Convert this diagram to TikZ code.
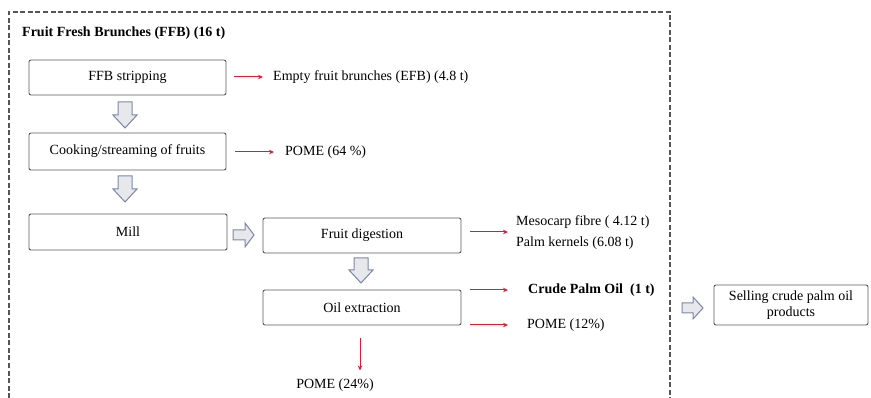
\documentclass[tikz,border=0pt]{standalone}
\usepackage{fontspec}
\setmainfont{Liberation Serif}
\usetikzlibrary{arrows.meta,calc}
\definecolor{redarr}{RGB}{214,30,55}
\definecolor{boxline}{RGB}{90,90,90}
\definecolor{frameline}{RGB}{85,85,85}
\definecolor{bafill}{RGB}{230,232,236}
\definecolor{baline}{RGB}{125,135,168}
\tikzset{
  procbox/.style={draw=boxline, line width=0.9pt, rounded corners=2pt, fill=white,
    minimum height=35pt, align=center, inner sep=2pt, font=\fontsize{14}{16}\selectfont},
  lbl/.style={inner sep=0pt, anchor=west, font=\fontsize{14}{16}\selectfont},
  redflow/.style={draw=redarr, line width=1pt, -{Stealth[length=5pt,width=4.5pt]}},
  barrow/.style={draw=baline, fill=bafill, line width=1pt, line join=miter},
  frame/.style={draw=frameline, line width=1.3pt, dash pattern=on 5pt off 2.5pt}
}
\begin{document}
\begin{tikzpicture}[x=1pt,y=-1pt]
\useasboundingbox (0,0) rectangle (871,398);
% frame
\draw[frame] (9,398) -- (9,12) -- (670,12) -- (670,398);
\node[inner sep=0pt, anchor=west, font=\fontsize{14}{16}\selectfont\bfseries] (title) at (22,33) {Fruit Fresh Brunches (FFB) (16 t)};
% boxes
\node[procbox, minimum width=197pt] (strip) at (127.5,77.5) {FFB stripping};
\node[procbox, minimum width=197pt, minimum height=37pt] (cook) at (127.5,151.5) {Cooking/streaming of fruits};
\node[procbox, minimum width=198pt, minimum height=36pt] (mill) at (128,232) {Mill};
\node[procbox, minimum width=198pt] (dig) at (362,235.5) {Fruit digestion};
\node[procbox, minimum width=198pt] (oil) at (362,307.5) {Oil extraction};
\node[procbox, minimum width=154pt, minimum height=40pt] (sell) at (791,305) {Selling crude palm oil\\products};
% block arrows
\draw[barrow, shift={(125,102)}] (-7,0) -- (7,0) -- (7,13) -- (12,13) -- (0,26) -- (-12,13) -- (-7,13) -- cycle;
\draw[barrow, shift={(125,176)}] (-7,0) -- (7,0) -- (7,13) -- (12,13) -- (0,26) -- (-12,13) -- (-7,13) -- cycle;
\draw[barrow, shift={(361,258)}] (-7,0) -- (7,0) -- (7,12) -- (12,12) -- (0,25) -- (-12,12) -- (-7,12) -- cycle;
\draw[barrow, shift={(233,235)}] (0,-5) -- (12,-5) -- (12,-12) -- (21,0) -- (12,12) -- (12,5) -- (0,5) -- cycle;
\draw[barrow, shift={(682,308)}] (0,-5) -- (11,-5) -- (11,-11) -- (21,0) -- (11,11) -- (11,5) -- (0,5) -- cycle;
% labels
\node[lbl] (efb) at (273,77) {Empty fruit brunches (EFB) (4.8 t)};
\node[lbl] (pome64) at (285,152) {POME (64 \%)};
\node[lbl] (meso) at (516,222) {Mesocarp fibre ( 4.12 t)};
\node[lbl] (kern) at (516,243) {Palm kernels (6.08 t)};
\node[lbl, font=\fontsize{14}{16}\selectfont\bfseries] (cpo) at (528,290) {Crude Palm Oil\ \ (1 t)};
\node[lbl] (pome12) at (527,325) {POME (12\%)};
\node[inner sep=0pt, font=\fontsize{14}{16}\selectfont] (pome24) at (335,385) {POME (24\%)};
% red flows
\coordinate (digout) at (508,232);
\draw[redflow] (strip.east |- efb.west) ++(8,0) -- ($(efb.west)+(-10,0)$);
\draw[redflow] (cook.east |- pome64.west) ++(9,0) -- ($(pome64.west)+(-11,0)$);
\draw[redflow] (dig.east |- digout) ++(9,0) -- (digout);
\draw[redflow] (oil.east |- cpo.west) ++(9,0) -- ($(cpo.west)+(-20,0)$);
\draw[redflow] (oil.east |- pome12.west) ++(9,0) -- ($(pome12.west)+(-19,0)$);
\draw[redflow] ($(oil.south)+(-2,13)$) -- ($(oil.south)+(-2,45)$);
\end{tikzpicture}
\end{document}
